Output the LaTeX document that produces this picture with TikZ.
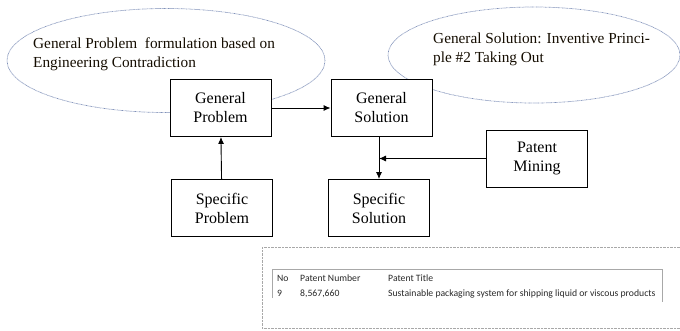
\documentclass[tikz,border=0pt]{standalone}
\usepackage{fontspec}
\setmainfont{Liberation Serif}
\newfontfamily\tablefont{Carlito}
\usetikzlibrary{arrows.meta}

\definecolor{ellline}{HTML}{7F90B8}
\definecolor{tabline}{HTML}{A8A8A8}
\definecolor{tabtext}{HTML}{282828}
\definecolor{notetext}{HTML}{140C00}

\tikzset{
    box/.style={draw, line width=0.9pt, fill=white, minimum width=101pt, minimum height=57pt,
        align=center, font=\fontsize{16}{19}\selectfont, inner sep=0pt},
    ell/.style={draw=ellline, line width=0.7pt, dash pattern=on 0.7pt off 0.6pt},
    note/.style={anchor=north west, align=left, inner sep=0pt, text=notetext,
        font=\fontsize{15.3}{18.5}\selectfont},
    flow/.style={line width=0.9pt, -{Latex[length=7pt,width=6pt]}},
    cell/.style={anchor=base west, inner sep=0pt, text=tabtext,
        font=\tablefont\fontsize{9.7}{11}\selectfont},
}

\begin{document}
\begin{tikzpicture}[x=1pt,y=-1pt]
        \clip (0,0) rectangle (680,330);

        % clouds
        \draw[ell] (166,60.5) ellipse [x radius=159, y radius=52];
        \draw[ell] (534,55) ellipse [x radius=146, y radius=48];
        \node[note] (probnote) at (33,38) {General Problem\ \ formulation based on\\Engineering Contradiction};
        \node[note] (solnote) at (433,33) {General Solution: Inventive Princi-\\ple \#2 Taking Out};

        % boxes
        \node[box] (gprob) at (220.5,108) {General\\Problem};
        \node[box] (sprob) at (222,208) {Specific\\Problem};
        \node[box] (gsol) at (381.5,108) {General\\Solution};
        \node[box] (ssol) at (379,208) {Specific\\Solution};
        \node[box] (mining) at (537,158.5) {Patent\\Mining};

        \draw[flow] (sprob) -- (gprob);
        \draw[flow] (gprob) -- (gsol);
        \draw[flow] (gsol.south -| ssol.north) -- (ssol.north);
        \coordinate (join) at (ssol.north |- mining.west);
        \draw[flow] (mining.west) -- (join);

        % patent table
        \draw[tabline, densely dotted] (262,247) rectangle (700,328);
        \draw[tabline] (272,298) -- (272,269) -- (662,269) -- (662,302);
        \node[cell] (hno) at (277,281) {No};
        \node[cell] (hnum) at (300,281) {Patent Number};
        \node[cell] (htitle) at (388,281) {Patent Title};
        \node[cell] (rno) at (277,296) {9};
        \node[cell] (rnum) at (300,296) {8,567,660};
        \node[cell] (rtitle) at (388,296) {Sustainable packaging system for shipping liquid or viscous products};
    \end{tikzpicture}
\end{document}
